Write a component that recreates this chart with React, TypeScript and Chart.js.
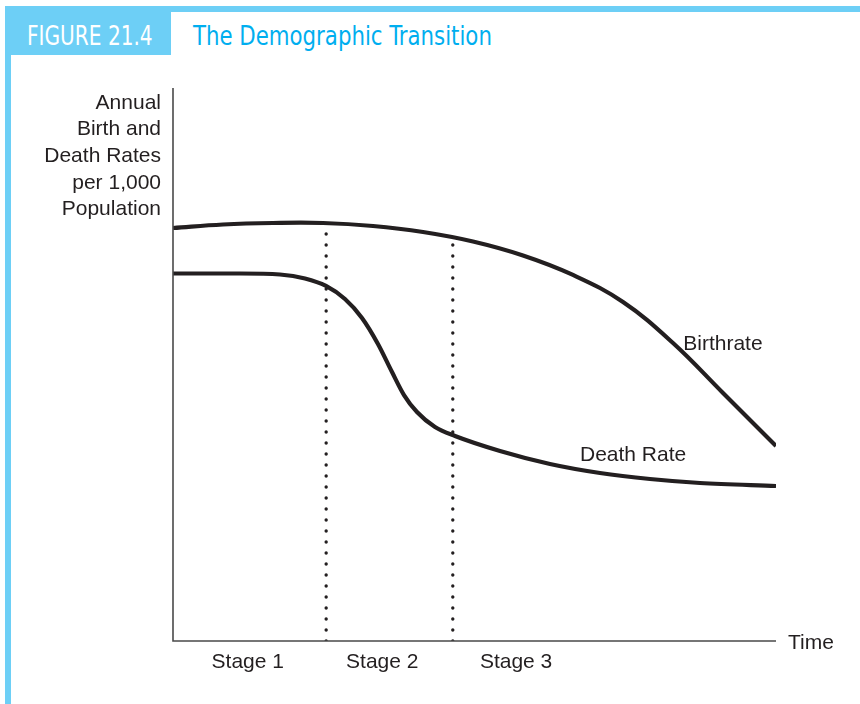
import React, { useEffect, useRef } from "react";
import { Chart, registerables } from "chart.js";

Chart.register(...registerables);

// Time axis in percent of the plotted period (0..100), rate axis in percent of axis height
const birthX = [0, 8.29, 16.58, 24.88, 33.17, 41.46, 49.75, 58.04, 66.33, 74.63, 82.92, 91.21, 100];
const birthY = [74.68, 75.32, 75.59, 75.59, 75.05, 73.96, 72.24, 69.71, 66.19, 61.3, 53.89, 44.85, 35.26];

const deathX = [0, 11.11, 17.74, 21.89, 25.37, 28.52, 31.34, 33.99, 36.32, 38.31, 40.46, 43.45, 46.77, 54.23, 62.52, 70.81, 79.1, 87.4, 100];
const deathY = [66.46, 66.46, 66.27, 65.55, 64.2, 61.84, 58.41, 53.71, 48.64, 44.48, 41.41, 38.7, 37.07, 34.36, 32.01, 30.38, 29.29, 28.57, 28.03];

const stageBoundX = [25.4, 46.4];
const stageBoundTop = [73.8, 72.0];

const stageLabels = ["Stage 1", "Stage 2", "Stage 3"];
const stageLabelX = [12.4, 34.7, 56.9];

const yAxisTitle = ["Annual", "Birth and", "Death Rates", "per 1,000", "Population"];
const xAxisTitle = "Time";
const seriesNames = ["Birthrate", "Death Rate"];
const seriesLabelPos = [
  [91.2, 53.7],
  [76.3, 33.6],
];

const figureTag = "FIGURE 21.4";
const figureTitle = "The Demographic Transition";

const INK = "#231f20";
const BLUE = "#6dcff6";
const FONT = '"Liberation Sans", Arial, Helvetica, sans-serif';

const zip = (xs: number[], ys: number[]) => xs.map((x, i) => ({ x, y: ys[i] }));

const annotations = {
  id: "annotations",
  afterDatasetsDraw(chart: any) {
    const { ctx, chartArea, scales } = chart;
    const xs = scales.x;
    const ys = scales.y;
    ctx.save();
    // axes
    ctx.strokeStyle = "#4a4a4a";
    ctx.lineWidth = 1.6;
    ctx.beginPath();
    ctx.moveTo(chartArea.left, chartArea.top);
    ctx.lineTo(chartArea.left, chartArea.bottom);
    ctx.lineTo(chartArea.right, chartArea.bottom);
    ctx.stroke();

    ctx.fillStyle = INK;
    ctx.font = `21px ${FONT}`;
    ctx.textBaseline = "middle";

    // y axis title, right-aligned
    ctx.textAlign = "right";
    yAxisTitle.forEach((line, i) => {
      ctx.fillText(line, chartArea.left - 12, 103 + i * 26.6);
    });

    // x axis title
    ctx.textAlign = "left";
    ctx.fillText(xAxisTitle, xs.getPixelForValue(102), ys.getPixelForValue(-0.4));

    // stage labels
    ctx.textAlign = "center";
    stageLabels.forEach((s, i) => {
      ctx.fillText(s, xs.getPixelForValue(stageLabelX[i]), ys.getPixelForValue(-3.8));
    });

    // series labels
    seriesNames.forEach((s, i) => {
      ctx.fillText(s, xs.getPixelForValue(seriesLabelPos[i][0]), ys.getPixelForValue(seriesLabelPos[i][1]));
    });
    ctx.restore();
  },
};

export default function App() {
  const ref = useRef<HTMLCanvasElement | null>(null);

  useEffect(() => {
    if (!ref.current) return;
    const dotted = stageBoundX.map((x, i) => ({
      data: [
        { x, y: 0 },
        { x, y: stageBoundTop[i] },
      ],
      borderColor: INK,
      borderWidth: 3.4,
      borderDash: [0, 11],
      borderCapStyle: "round" as const,
      pointRadius: 0,
      tension: 0,
      fill: false,
    }));
    const chart = new Chart(ref.current, {
      type: "line",
      data: {
        datasets: [
          {
            label: seriesNames[0],
            data: zip(birthX, birthY),
            borderColor: INK,
            borderWidth: 4.2,
            pointRadius: 0,
            tension: 0.4,
            fill: false,
          },
          {
            label: seriesNames[1],
            data: zip(deathX, deathY),
            borderColor: INK,
            borderWidth: 4.2,
            pointRadius: 0,
            cubicInterpolationMode: "monotone",
            fill: false,
          },
          ...dotted,
        ] as any,
      },
      options: {
        animation: false,
        responsive: false,
        maintainAspectRatio: false,
        layout: { padding: { left: 173, right: 84, top: 88, bottom: 63 } },
        plugins: { legend: { display: false }, tooltip: { enabled: false } },
        scales: {
          x: { type: "linear", min: 0, max: 100, display: false },
          y: { type: "linear", min: 0, max: 100, display: false },
        },
      },
      plugins: [annotations],
    });
    return () => chart.destroy();
  }, []);

  const condensed = '"Liberation Sans Narrow", "DejaVu Sans Condensed", "Roboto", sans-serif';
  const headText = {
    position: "absolute" as const,
    top: 15,
    height: 43,
    lineHeight: "43px",
    fontFamily: condensed,
    fontStretch: "condensed",
    fontSize: 26,
    whiteSpace: "nowrap" as const,
    transformOrigin: "0 50%",
  };

  return (
    <div style={{ position: "fixed", left: 0, top: 0, width: 860, height: 704, background: "#fff", overflow: "hidden" }}>
      <div style={{ position: "absolute", left: 5, top: 6, width: 855, height: 6, background: BLUE }} />
      <div style={{ position: "absolute", left: 5, top: 6, width: 6, height: 698, background: BLUE }} />
      <div style={{ position: "absolute", left: 10, top: 12, width: 161, height: 43, background: BLUE }} />
      <div style={{ ...headText, left: 27, color: "#fff", transform: "scaleX(0.86)" }}>{figureTag}</div>
      <div style={{ ...headText, left: 193, color: "#00aeef", transform: "scaleX(0.91)" }}>{figureTitle}</div>
      <canvas ref={ref} width={860} height={704} style={{ position: "absolute", left: 0, top: 0 }} />
    </div>
  );
}
